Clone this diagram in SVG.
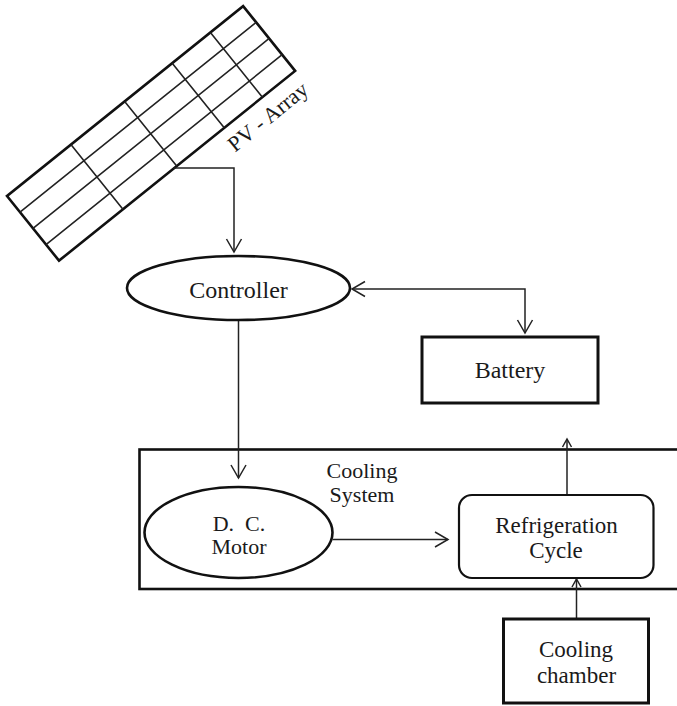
<svg xmlns="http://www.w3.org/2000/svg" width="677" height="706" viewBox="0 0 677 706">
<defs>
<style>
.t{font-family:"Liberation Serif","Times New Roman",serif;font-size:23px;fill:#1a1a1a;text-anchor:middle}
.s{font-size:22px}
.l{font-size:24px}
.box{fill:#fff;stroke:#111;stroke-width:3}
.thin{fill:none;stroke:#222;stroke-width:1.5}
.grid{fill:none;stroke:#222;stroke-width:1.6}
</style>
<marker id="ah" markerUnits="userSpaceOnUse" markerWidth="20" markerHeight="20" viewBox="-14 -10 16 20" refX="0" refY="0" orient="auto-start-reverse">
<path d="M-13,-7.5 L0,0 L-13,7.5" fill="none" stroke="#222" stroke-width="1.5"/>
</marker>
<marker id="ahs" markerUnits="userSpaceOnUse" markerWidth="14" markerHeight="14" viewBox="-10 -7 12 14" refX="0" refY="0" orient="auto">
<path d="M-8,-4.5 L0,0 L-8,4.5" fill="none" stroke="#222" stroke-width="1.5"/>
</marker>
</defs>
<rect width="677" height="706" fill="#fff"/>

<g id="pv-array">
<g transform="translate(7,196) rotate(-38.8)">
<rect x="0" y="0" width="303" height="83" fill="#fff" stroke="#111" stroke-width="2.6"/>
<path class="grid" d="M0,20.75H303M0,41.5H303M0,62.25H303M82,0V83M151,0V83M212,0V83M261,0V83"/>
</g>
<text class="t s" transform="translate(268,117) rotate(-39)" x="0" y="7">PV - Array</text>
</g>

<g id="cooling-system">
<rect x="139.5" y="449.5" width="545" height="139.5" fill="none" stroke="#111" stroke-width="2.6"/>
<text class="t s" x="362" y="478">Cooling</text>
<text class="t s" x="362" y="502">System</text>
</g>

<g id="connectors">
<path class="thin" d="M173,168H234V252" marker-end="url(#ah)"/>
<path class="thin" d="M352,289H525V333" marker-start="url(#ah)" marker-end="url(#ah)"/>
<path class="thin" d="M238.5,320V478" marker-end="url(#ah)"/>
<path class="thin" d="M332.5,539.5H448" marker-end="url(#ah)"/>
<path class="thin" d="M567,495V439" marker-end="url(#ahs)"/>
<path class="thin" d="M576.5,619V579" marker-end="url(#ahs)"/>
</g>

<g id="controller">
<ellipse cx="238.5" cy="288" rx="111.5" ry="32" fill="#fff" stroke="#111" stroke-width="2.6"/>
<text class="t l" x="238.5" y="297.5">Controller</text>
</g>

<g id="battery">
<rect x="422" y="337" width="176" height="66" class="box"/>
<text class="t l" x="510" y="378">Battery</text>
</g>

<g id="dc-motor">
<ellipse cx="238.5" cy="532.5" rx="94" ry="45.5" fill="#fff" stroke="#111" stroke-width="2.6"/>
<text class="t s" x="239" y="531" style="white-space:pre">D.  C.</text>
<text class="t s" x="239" y="554">Motor</text>
</g>

<g id="refrigeration-cycle">
<rect x="459" y="495" width="194.5" height="83" rx="13" ry="13" fill="#fff" stroke="#111" stroke-width="2.2"/>
<text class="t" x="556.5" y="532.5">Refrigeration</text>
<text class="t" x="556" y="558">Cycle</text>
</g>

<g id="cooling-chamber">
<rect x="503.5" y="619" width="145" height="84" class="box"/>
<text class="t" x="576" y="657">Cooling</text>
<text class="t" x="576.5" y="683">chamber</text>
</g>
</svg>
